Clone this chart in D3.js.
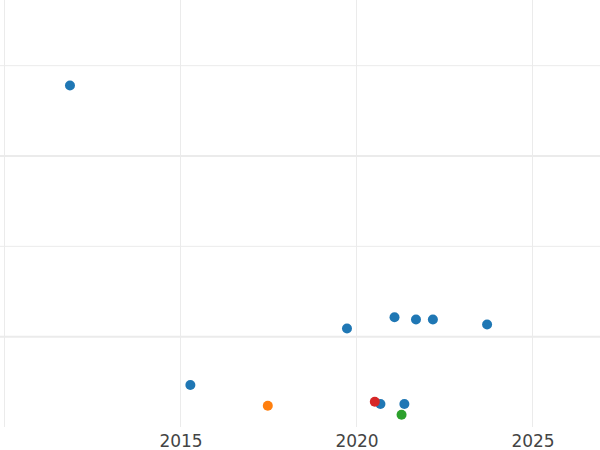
<!DOCTYPE html>
<html>
<head>
<meta charset="utf-8">
<script src="https://cdn.jsdelivr.net/npm/d3@7"></script>
<style>
  body { margin: 0; background: #fff; }
  svg { display: block; }
</style>
</head>
<body>
<svg class="chart"></svg>
<script>
var W = 600, H = 450;

// series values (year, value)
var blueYears  = [2011.86, 2015.28, 2019.73, 2020.68, 2021.08, 2021.36, 2021.69, 2022.17, 2023.71];
var blueVals   = [3.78, 0.465, 1.09, 0.255, 1.215, 0.255, 1.19, 1.19, 1.135];
var orangeYears = [2017.48];
var orangeVals  = [0.235];
var greenYears  = [2021.28];
var greenVals   = [0.135];
var redYears    = [2020.52];
var redVals     = [0.28];

var xTicks = [2010, 2015, 2020, 2025];
var xTickLabels = ["", "2015", "2020", "2025"];
var yTicks = [1, 2, 3, 4];

var seriesNames = ["blue", "orange", "green", "red"];
var seriesColors = ["#1f77b4", "#ff7f0e", "#2ca02c", "#d62728"];

var svg = d3.select('.chart').attr('width', W).attr('height', H);

var x = d3.scaleLinear().domain([2010, 2025]).range([4.5, 532.5]);
var y = d3.scaleLinear().domain([0, 4.727]).range([427, 0]);

var grid = svg.append('g');

// vertical grid
grid.selectAll('line.vx').data(xTicks).enter().append('line')
  .attr('class', 'vx')
  .attr('x1', function(d) { return x(d); }).attr('x2', function(d) { return x(d); })
  .attr('y1', 0).attr('y2', y(0))
  .attr('stroke', '#ebebeb').attr('stroke-width', 1);

// horizontal grid
grid.selectAll('line.hy').data(yTicks).enter().append('line')
  .attr('class', 'hy')
  .attr('x1', 0).attr('x2', W)
  .attr('y1', function(d) { return y(d); }).attr('y2', function(d) { return y(d); })
  .attr('stroke', '#ebebeb')
  .attr('stroke-width', function(d, i) { return i % 2 == 0 ? 2 : 1; });

// x axis labels
var xAxis = d3.axisBottom(x).tickValues(xTicks)
  .tickFormat(function(d, i) { return xTickLabels[i]; })
  .tickSize(0).tickPadding(0);
var ax = svg.append('g').attr('transform', 'translate(0,' + 433 + ')').call(xAxis);
ax.select('.domain').remove();
ax.selectAll('text')
  .attr('dy', null).attr('y', 14)
  .attr('font-family', 'DejaVu Sans, sans-serif')
  .attr('font-size', 17)
  .attr('fill', '#444');

// points
var series = [
  { years: blueYears, vals: blueVals },
  { years: orangeYears, vals: orangeVals },
  { years: greenYears, vals: greenVals },
  { years: redYears, vals: redVals }
];

series.forEach(function(s, k) {
  var pts = s.years.map(function(yr, i) { return [yr, s.vals[i]]; });
  svg.append('g').attr('class', 'pts-' + seriesNames[k])
    .selectAll('circle').data(pts).enter().append('circle')
    .attr('cx', function(d) { return x(d[0]); })
    .attr('cy', function(d) { return y(d[1]); })
    .attr('r', 5)
    .attr('fill', seriesColors[k]);
});
</script>
</body>
</html>
